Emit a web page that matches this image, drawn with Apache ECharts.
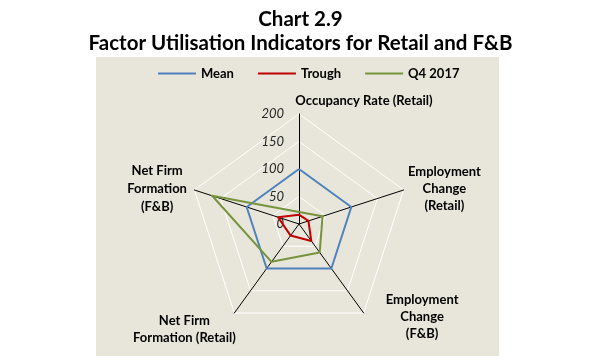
<!DOCTYPE html>
<html>
<head>
<meta charset="utf-8">
<script src="https://cdn.jsdelivr.net/npm/echarts@6/dist/echarts.min.js"></script>
<style>
html,body{margin:0;padding:0;background:#fff;}
#c{width:601px;height:360px;}
</style>
</head>
<body>
<div id="c"></div>
<script>
// Indicators in ECharts (counter-clockwise from top) order
var categories = ['Occupancy Rate (Retail)', 'Net Firm Formation (F&B)', 'Net Firm Formation (Retail)', 'Employment Change (F&B)', 'Employment Change (Retail)'];
var meanValues   = [100, 100, 100, 100, 100];
var troughValues = [17, 40, 26, 38, 18];
var q4Values     = [22, 166, 85, 64, 45];
var seriesNames  = ['Mean', 'Trough', 'Q4 2017'];
var tickLabels   = [0, 50, 100, 150, 200];

var FONT = 'Lato, "Liberation Sans", sans-serif';
var base = {fontFamily: FONT, fontWeight: 'bold', fontSize: 13, lineHeight: 17, color: '#000'};
function st(o){ var r = {}; for (var k in base) r[k] = base[k]; for (var k2 in o) r[k2] = o[k2]; return r; }

var chart = echarts.init(document.getElementById('c'), null, {renderer: 'canvas'});
chart.setOption({
  backgroundColor: '#fff',
  animation: false,
  graphic: [{
    type: 'rect', z: -10,
    shape: {x: 96, y: 57, width: 403, height: 299},
    style: {fill: '#e8e6da'}
  }],
  title: {
    text: 'Chart 2.9\nFactor Utilisation Indicators for Retail and F&B',
    left: 'center', top: 2,
    textStyle: {fontFamily: FONT, fontWeight: 'bold', fontSize: 20.5, lineHeight: 24, color: '#000'}
  },
  legend: {
    data: seriesNames,
    top: 62, left: 153,
    icon: 'rect', itemWidth: 38, itemHeight: 2, itemGap: 24, itemStyle: {borderWidth: 0},
    textStyle: {fontFamily: FONT, fontWeight: 'bold', fontSize: 13, color: '#000'}
  },
  polar: {center: [299, 224], radius: 110},
  angleAxis: {show: false, startAngle: 90, min: 0, max: 360},
  radiusAxis: {
    min: tickLabels[0], max: tickLabels[tickLabels.length - 1], interval: 50,
    axisLine: {show: false}, axisTick: {show: false}, splitLine: {show: false},
    axisLabel: {show: true, fontFamily: FONT, fontStyle: 'italic', fontSize: 13, color: '#262626', margin: 15}
  },
  radar: {
    center: [299, 224], radius: 110, startAngle: 90, splitNumber: 4, shape: 'polygon',
    indicator: categories.map(function(n){ return {name: n, min: 0, max: 200}; }),
    nameGap: 5,
    axisName: {
      color: '#000', fontFamily: FONT, fontWeight: 'bold', fontSize: 13,
      formatter: function(name){
        if (name === categories[0]) return '{occ|Occupancy Rate (Retail)}';
        if (name === categories[1]) return '{nf|Net Firm}\n{nf|Formation}\n{nf|(F&B)}';
        if (name === categories[2]) return '{sp| }\n{nr|Net Firm}\n{nr|Formation (Retail)}';
        if (name === categories[3]) return '{ef|Employment}\n{ef|Change}\n{ef|(F&B)}';
        return '{er|Employment}\n{er|Change}\n{er|(Retail)}';
      },
      rich: {
        occ: st({padding: [0, 0, 0, 130]}),
        nf: st({width: 65, align: 'center', lineHeight: 18}),
        sp: st({lineHeight: 24, fontSize: 4}),
        nr: st({width: 94, align: 'center'}),
        ef: st({width: 111, align: 'center'}),
        er: st({width: 72, align: 'center'})
      }
    },
    splitLine: {lineStyle: {color: '#ffffff', width: 1}},
    splitArea: {show: false},
    axisLine: {lineStyle: {color: '#000', width: 1}},
    axisTick: {show: false}
  },
  series: [{
    type: 'radar',
    symbol: 'none',
    data: [
      {name: seriesNames[0], value: meanValues, lineStyle: {color: '#4f81bd', width: 2}, itemStyle: {color: '#4f81bd'}},
      {name: seriesNames[1], value: troughValues, lineStyle: {color: '#c00000', width: 2}, itemStyle: {color: '#c00000'}},
      {name: seriesNames[2], value: q4Values, lineStyle: {color: '#77933c', width: 2}, itemStyle: {color: '#77933c'}}
    ]
  }]
});
</script>
</body>
</html>
